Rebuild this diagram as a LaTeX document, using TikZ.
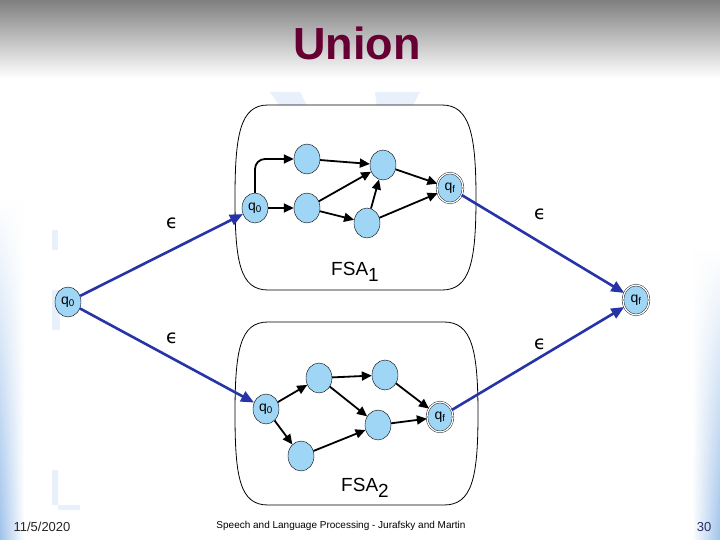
\documentclass[tikz,border=0pt]{standalone}
\usepackage{fontspec}
\setmainfont{Liberation Sans}
\newfontfamily\epsfont{DejaVu Sans}
\usepackage{tikz}
\usetikzlibrary{shapes.geometric, arrows.meta, fadings}
\definecolor{stateblue}{RGB}{160,214,245}
\definecolor{epsblue}{RGB}{38,52,168}
\definecolor{maroon}{RGB}{102,0,51}
\definecolor{wmark}{RGB}{232,240,251}
\definecolor{edgeblue}{RGB}{160,195,235}
\definecolor{pagenavy}{RGB}{40,45,100}

\begin{document}
\begin{tikzpicture}[
    x=1pt, y=-1pt,
    state/.style={
        ellipse,
        draw=black,
        fill=stateblue,
        inner sep=0pt,
        minimum width=26pt,
        minimum height=30pt,
        font=\fontsize{14}{15}\selectfont,
    },
    final/.style={state, double=white, double distance=1.3pt},
    edge/.style={-{Triangle[length=10pt, width=9pt]}, line width=1.8pt},
    eps/.style={-{Triangle[length=13pt, width=11pt]}, line width=2.6pt, color=epsblue},
    fsa/.style={draw=black, fill=white, line width=0.8pt},
    lbl/.style={font=\fontsize{19}{22}\selectfont},
    epslbl/.style={font=\epsfont\fontsize{19}{22}\selectfont},
    foot/.style={font=\fontsize{10}{12}\selectfont}
]
\useasboundingbox (0,0) rectangle (720,540);
\fill[white] (0,0) rectangle (720,540);
\shade[top color=black!50, bottom color=white] (0,0) rectangle (720,78);
% edge bands and faint watermark
\shade[left color=edgeblue, right color=white, path fading=north] (0,200) rectangle (24,540);
\shade[left color=white, right color=edgeblue, path fading=north] (692,250) rectangle (720,540);
\fill[wmark] (52,230) rectangle (58,250);
\fill[wmark] (52,290) rectangle (60,330);
\fill[wmark] (52,470) rectangle (58,505) -- (58,505) rectangle (80,510);
\fill[wmark] (270,92) -- (300,92) -- (330,150) -- (310,150) -- cycle;
\fill[wmark] (375,92) -- (420,92) -- (400,130) -- (380,130) -- cycle;

\node[font=\bfseries\fontsize{45}{50}\selectfont, text=maroon] (title) at (357,43) {Union};

\draw[fsa] (268,105) -- (442,105) .. controls (470,105) and (476,135) .. (476,198)
    .. controls (476,262) and (470,290) .. (442,290) -- (268,290)
    .. controls (240,290) and (235,262) .. (235,198)
    .. controls (235,135) and (240,105) .. cycle;
\draw[fsa] (268,322) -- (444,322) .. controls (472,322) and (478,350) .. (478,414)
    .. controls (478,478) and (472,505) .. (444,505) -- (268,505)
    .. controls (240,505) and (235,478) .. (235,414)
    .. controls (235,350) and (240,322) .. cycle;

% FSA 1
\node[state] (a0) at (255,208) {q\textsubscript{0}};
\node[state] (a1) at (307,159) {};
\node[state] (a2) at (307,208) {};
\node[state] (a3) at (383,165) {};
\node[state] (a4) at (367,223) {};
\node[final] (af) at (450,188) {q\textsubscript{f}};
\node[lbl] (fsa1) at (355,272) {FSA\raisebox{-0.55ex}{1}};

% FSA 2
\node[state] (b0) at (266,409) {q\textsubscript{0}};
\node[state] (b1) at (319,378) {};
\node[state] (b2) at (301,456) {};
\node[state] (b3) at (385,375) {};
\node[state] (b4) at (378,425) {};
\node[final] (bf) at (440,417) {q\textsubscript{f}};
\node[lbl] (fsa2) at (365,488) {FSA\raisebox{-0.55ex}{2}};

\node[state] (q0) at (68,302) {q\textsubscript{0}};
\node[final] (qf) at (636,300) {q\textsubscript{f}};

\node[epslbl] (e1) at (172,223) {ϵ};
\node[epslbl] (e2) at (540,214) {ϵ};
\node[epslbl] (e3) at (172,338) {ϵ};
\node[epslbl] (e4) at (540,344) {ϵ};

\draw[edge, rounded corners=10pt] (a0.north) |- (a1.west);
\draw[edge] (a0) -- (a2);
\draw[edge] (a1) -- (a3);
\draw[edge] (a2) -- (a3);
\draw[edge] (a2) -- (a4);
\draw[edge] (a4) -- (a3);
\draw[edge] (a3) -- (af);
\draw[edge] (a4) -- (af);

\draw[edge] (b0) -- (b1);
\draw[edge] (b0) -- (b2);
\draw[edge] (b1) -- (b3);
\draw[edge] (b1) -- (b4);
\draw[edge] (b2) -- (b4);
\draw[edge] (b3) -- (bf);
\draw[edge] (b4) -- (bf);

\draw[eps] (q0) -- (a0);
\draw[eps] (q0) -- (b0);
\draw[eps] (af) -- (qf);
\draw[eps] (bf) -- (qf);

\node[font=\fontsize{13}{15}\selectfont, text=black!85] (date) at (42,527) {11/5/2020};
\node[foot] (credit) at (341,526) {Speech and Language Processing - Jurafsky and Martin};
\node[font=\fontsize{13}{15}\selectfont, text=pagenavy] (page) at (704,527) {30};
\end{tikzpicture}
\end{document}
